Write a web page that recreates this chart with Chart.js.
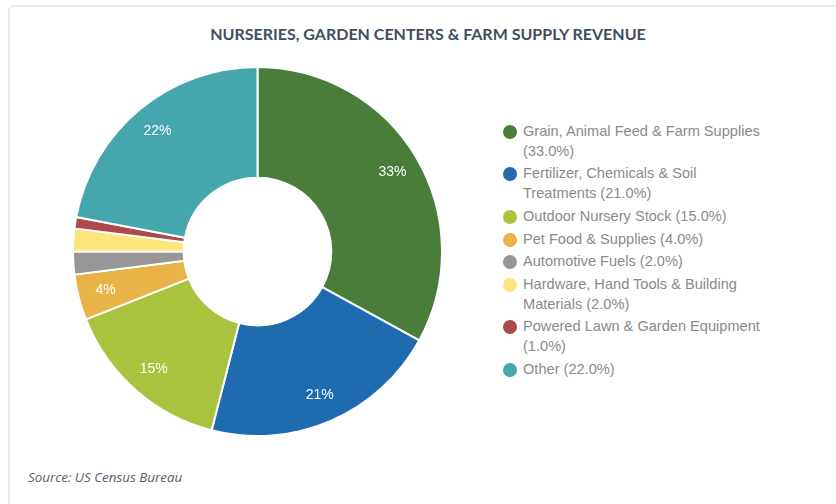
<!DOCTYPE html>
<html>
<head>
<meta charset="utf-8">
<script src="https://cdn.jsdelivr.net/npm/chart.js@4"></script>
<style>
  html, body { margin: 0; padding: 0; background: #fff; }
  body { width: 836px; height: 504px; position: relative; overflow: hidden; }
  .card {
    position: absolute; left: 8px; top: 5px; width: 840px; height: 520px;
    border: 2px solid #ececec; border-radius: 6px; box-sizing: border-box;
  }
  .title {
    position: absolute; left: 0; top: 24px; width: 856px; text-align: center;
    font-family: Lato, sans-serif; font-weight: 700; font-size: 16px;
    color: #3e4e60;
  }
  .chart-box { position: absolute; left: 72px; top: 66px; width: 371px; height: 371px; }
  #legend {
    position: absolute; left: 502px; top: 122px; width: 266px;
    font-family: "Liberation Sans", Arial, sans-serif; font-size: 14.6px; color: #8a8a8a;
    list-style: none; margin: 0; padding: 0;
  }
  #legend li { position: relative; padding-left: 21px; line-height: 19.6px; margin-bottom: 3.2px; }
  #legend li span {
    position: absolute; left: 1px; top: 3px; width: 14px; height: 14px; border-radius: 50%;
  }
  .source {
    position: absolute; left: 28px; top: 468px;
    font-family: "Open Sans", sans-serif; font-style: italic; font-size: 13.4px; color: #55606c;
  }
</style>
</head>
<body>
<div class="card"></div>
<div class="title">NURSERIES, GARDEN CENTERS &amp; FARM SUPPLY REVENUE</div>
<div class="chart-box"><canvas id="revenue-chart"></canvas></div>
<ul id="legend"></ul>
<div class="source">Source: US Census Bureau</div>
<script>
const categories = [
  'Grain, Animal Feed & Farm Supplies',
  'Fertilizer, Chemicals & Soil Treatments',
  'Outdoor Nursery Stock',
  'Pet Food & Supplies',
  'Automotive Fuels',
  'Hardware, Hand Tools & Building Materials',
  'Powered Lawn & Garden Equipment',
  'Other'
];
const shares = [33, 21, 15, 4, 2, 2, 1, 22];
const colors = ['#4a7d3a', '#1f6bb0', '#a9c33f', '#e8b447', '#979797', '#ffe47c', '#ad4a4b', '#45a6ae'];

// Percent labels inside the larger slices
const sliceLabels = {
  id: 'sliceLabels',
  afterDatasetsDraw(chart) {
    const ctx = chart.ctx;
    const meta = chart.getDatasetMeta(0);
    ctx.save();
    ctx.fillStyle = '#ffffff';
    ctx.font = '14px "Liberation Sans", Arial, sans-serif';
    ctx.textAlign = 'center';
    ctx.textBaseline = 'middle';
    meta.data.forEach(function(arc, i) {
      const v = shares[i];
      if (v < 4) return;
      const p = arc.getProps(['x', 'y', 'startAngle', 'endAngle', 'innerRadius', 'outerRadius']);
      const mid = (p.startAngle + p.endAngle) / 2;
      const r = p.innerRadius + (p.outerRadius - p.innerRadius) * 0.75;
      ctx.fillText(v + '%', p.x + Math.cos(mid) * r, p.y + Math.sin(mid) * r);
    });
    ctx.restore();
  }
};

const ctx = document.getElementById('revenue-chart').getContext('2d');
const chart = new Chart(ctx, {
  type: 'doughnut',
  data: {
    labels: categories,
    datasets: [{
      data: shares,
      backgroundColor: colors,
      borderColor: '#ffffff',
      borderWidth: 2
    }]
  },
  options: {
    responsive: true,
    maintainAspectRatio: false,
    animation: false,
    cutout: '40%',
    layout: { padding: 0 },
    plugins: {
      legend: { display: false },
      tooltip: { enabled: false }
    }
  },
  plugins: [sliceLabels]
});

// HTML legend
const legend = document.getElementById('legend');
categories.forEach(function(name, i) {
  const li = document.createElement('li');
  const dot = document.createElement('span');
  dot.style.background = colors[i];
  li.appendChild(dot);
  li.appendChild(document.createTextNode(name + ' (' + shares[i].toFixed(1) + '%)'));
  legend.appendChild(li);
});
</script>
</body>
</html>
